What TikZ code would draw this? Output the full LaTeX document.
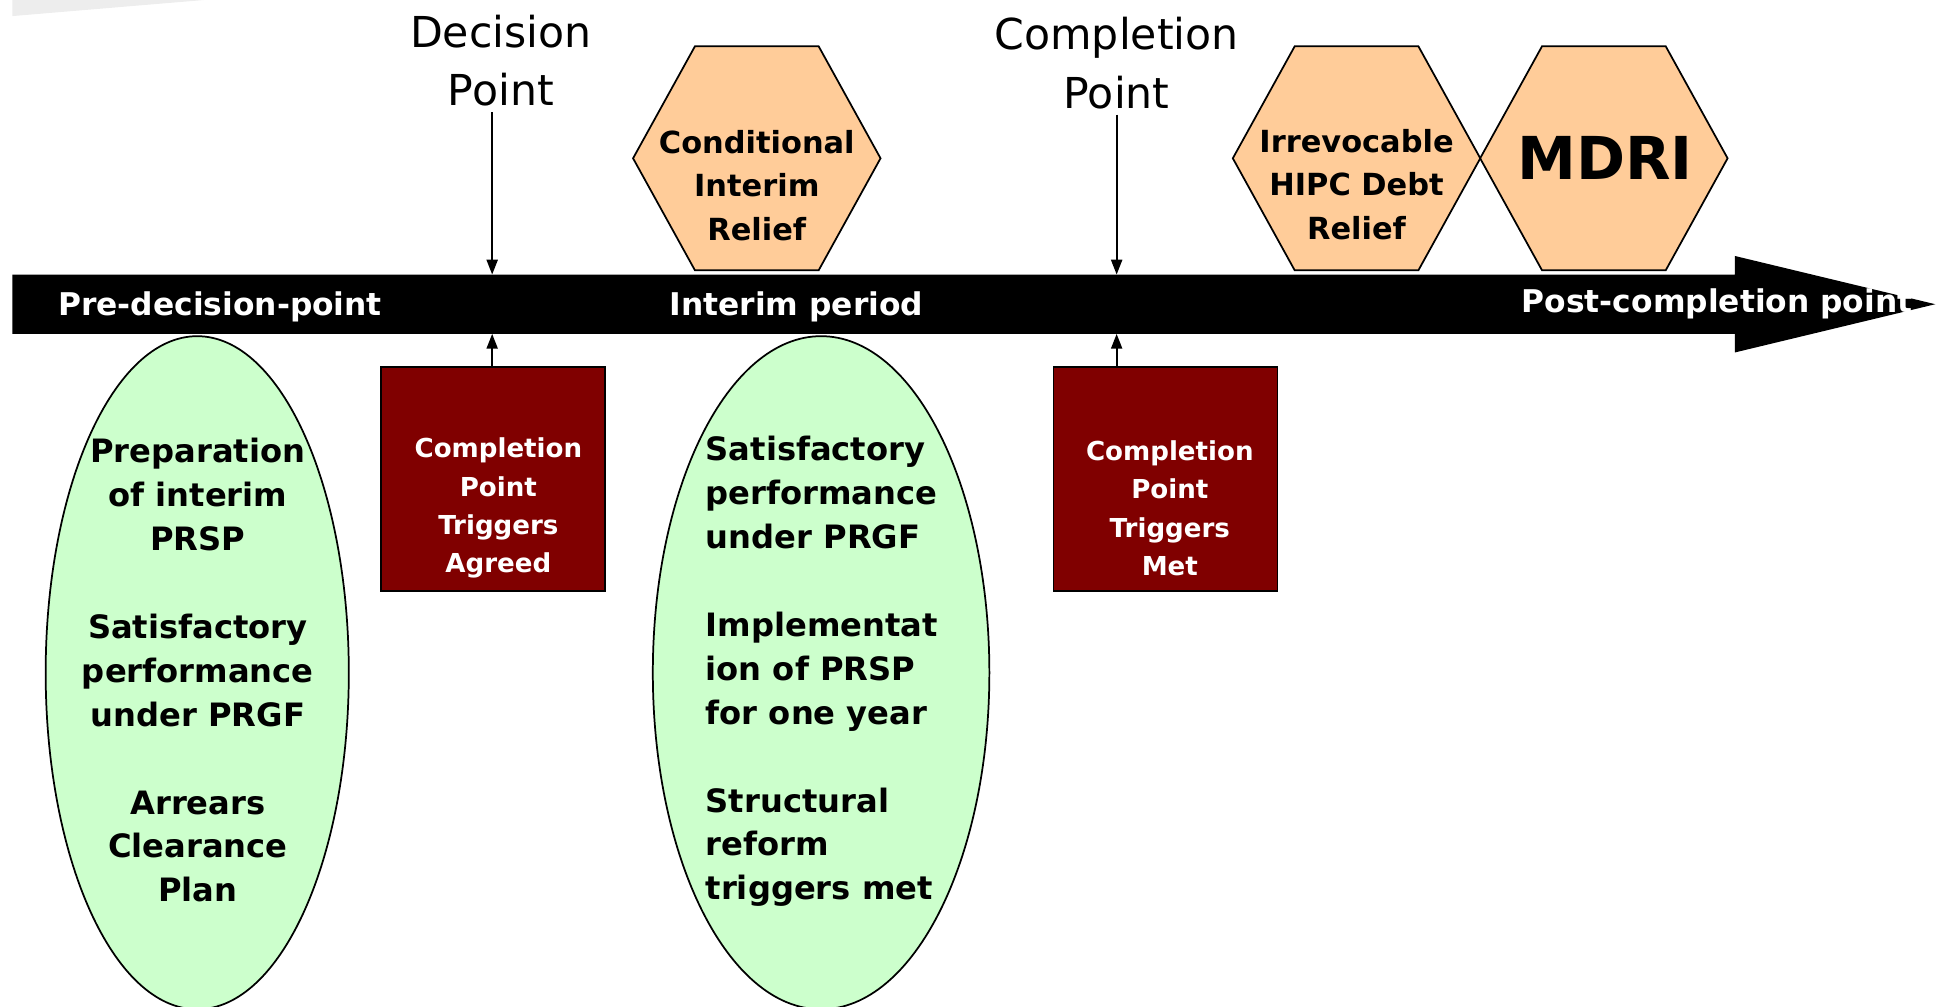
\documentclass[tikz,border=0pt]{standalone}
\usepackage{fontspec}
\setmainfont{DejaVu Sans}
\usepackage{xcolor}
\usetikzlibrary{shapes.geometric, arrows.meta}
\definecolor{peach}{HTML}{FFCC99}
\definecolor{mint}{HTML}{CCFFCC}
\definecolor{maroon}{HTML}{800000}

\begin{document}
\begin{tikzpicture}[
    x=0.01cm, y=-0.01cm,
    oval/.style={ellipse, draw, thin, fill=mint, inner sep=0pt, minimum width=2.45cm, minimum height=5.44cm},
    ovaltext/.style={font=\fontsize{7.4}{10.1}\selectfont\bfseries, inner sep=0pt},
    hexa/.style={regular polygon, regular polygon sides=6, draw, thin, fill=peach, inner sep=0pt, minimum size=2cm, yscale=1.045, transform shape},
    hextext/.style={font=\fontsize{7}{10}\selectfont\bfseries, align=center, inner sep=0pt},
    trigger/.style={rectangle, draw, thin, fill=maroon, minimum width=1.81cm, minimum height=1.81cm},
    trigtext/.style={font=\fontsize{6}{8.8}\selectfont\bfseries, text=white, align=center, inner sep=0pt},
    bartext/.style={font=\fontsize{7.2}{8}\selectfont\bfseries, text=white, inner sep=0pt, anchor=base},
    milestone/.style={font=\fontsize{9.8}{13.4}\selectfont, align=center, inner sep=0pt},
    arrow/.style={-{Triangle[length=0.12cm, width=0.09cm]}, thin}
]
\useasboundingbox (0,0) rectangle (1568,814);

% Slide corner
\fill[black!7] (10,0) -- (165,0) -- (10,13) -- cycle;

% Timeline bar
\fill[black] (10,222) -- (1403,222) -- (1403,207) -- (1565,246) -- (1403,285) -- (1403,270) -- (10,270) -- cycle;
\coordinate (dptop) at (398,222);
\coordinate (dpbot) at (398,270);
\coordinate (cptop) at (903,222);
\coordinate (cpbot) at (903,270);

% Period labels
\node[bartext] (pre) at (178,255) {Pre-decision-point};
\node[bartext] (interim) at (644,255) {Interim period};
\node[bartext, anchor=base west] (post) at (1230,253) {Post-completion point};

% Milestones
\node[milestone] (decision) at (405,49) {Decision\\Point};
\node[milestone] (completion) at (903,51) {Completion\\Point};

% Relief hexagons
\node[hexa] (cir) at (612,128) {};
\node[hextext] (cirtext) at (612,150) {Conditional\\Interim\\Relief};
\node[hexa] (hipc) at (1097,128) {};
\node[hextext] (hipctext) at (1097,149) {Irrevocable\\HIPC Debt\\Relief};
\node[hexa] (mdri) at (1297,128) {};
\node[hextext, font=\fontsize{13.6}{16}\selectfont\bfseries] (mdritext) at (1298,128) {MDRI};

% Conditions ovals
\node[oval] (preoval) at (159.5,544) {};
\node[ovaltext, align=center] (pretext) at (160,542) {Preparation\\of interim\\PRSP\\[10.1pt]Satisfactory\\performance\\under PRGF\\[10.1pt]Arrears\\Clearance\\Plan};
\node[oval, minimum width=2.72cm] (intoval) at (664,544) {};
\node[ovaltext, align=left, anchor=west] (inttext) at (570,543) {Satisfactory\\performance\\under PRGF\\[10.1pt]Implementat\\ion of PRSP\\for one year\\[10.1pt]Structural\\reform\\triggers met};

% Trigger boxes
\node[trigger] (agreed) at (398.5,387.5) {};
\node[trigtext] (agreedtext) at (403,411) {Completion\\Point\\Triggers\\Agreed};
\node[trigger] (met) at (942.5,387.5) {};
\node[trigtext] (mettext) at (946,411) {Completion\\Point\\Triggers\\Met};

% Arrows
\draw[arrow, shorten <=0.04cm] (decision.south -| dptop) -- (dptop);
\draw[arrow, shorten <=0.04cm] (completion.south -| cptop) -- (cptop);
\draw[arrow] (agreed.north -| dpbot) -- (dpbot);
\draw[arrow] (met.north -| cpbot) -- (cpbot);

\end{tikzpicture}
\end{document}
